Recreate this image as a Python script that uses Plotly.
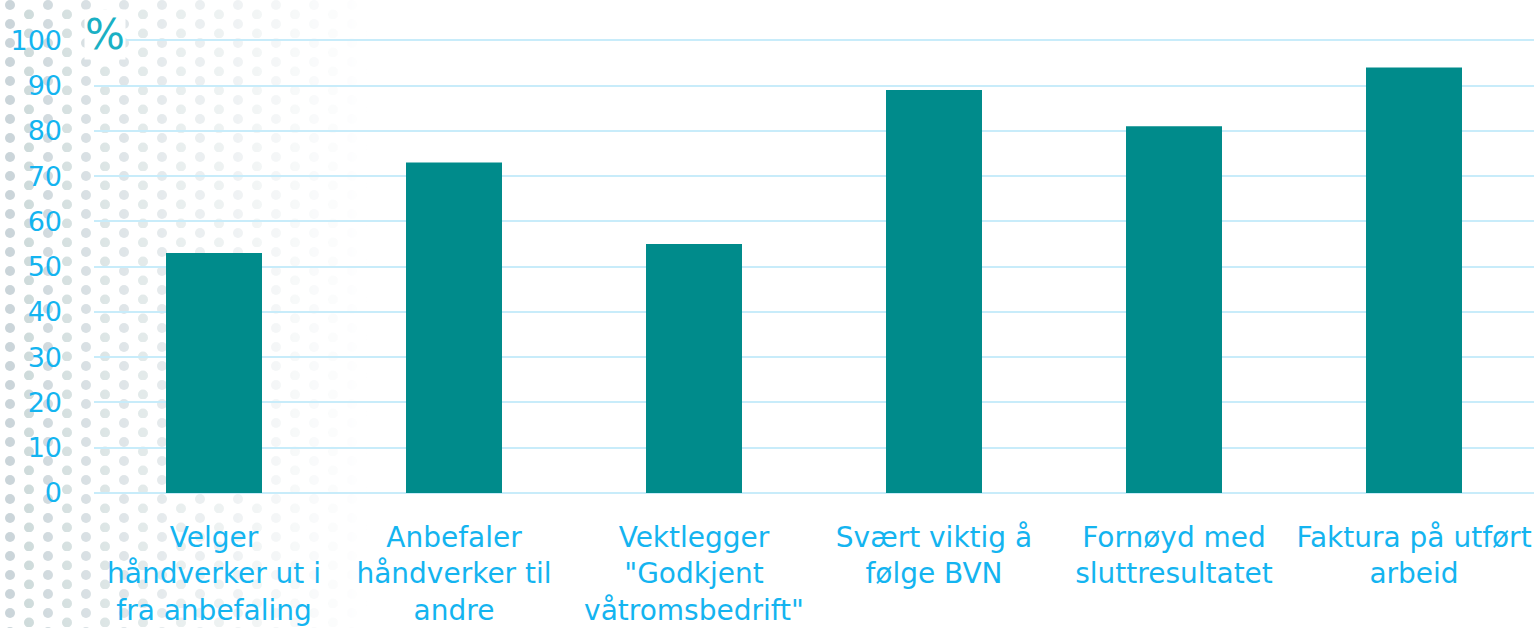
import base64
import plotly.graph_objects as go

categories = [
    "Velger<br>håndverker ut i<br>fra anbefaling",
    "Anbefaler<br>håndverker til<br>andre",
    "Vektlegger<br>\"Godkjent<br>våtromsbedrift\"",
    "Svært viktig å<br>følge BVN",
    "Fornøyd med<br>sluttresultatet",
    "Faktura på utført<br>arbeid",
]
values = [53, 73, 55, 89, 81, 94]
y_ticks = list(range(0, 101, 10))

BAR = "#008b8b"
TXT = "#14b4f0"
GRID = "#c8ecfa"

# decorative dotted background (left side fade)
svg = """<svg xmlns='http://www.w3.org/2000/svg' width='1537' height='628'>
<defs>
<pattern id='p' width='38' height='19' patternUnits='userSpaceOnUse'>
<circle cx='10' cy='5' r='5' fill='#a7b8c0'/>
<circle cx='29' cy='14.5' r='5' fill='#a9bfbf'/>
</pattern>
<linearGradient id='g' x1='0' x2='1' y1='0' y2='0'>
<stop offset='0' stop-color='white' stop-opacity='0.62'/>
<stop offset='0.05' stop-color='white' stop-opacity='0.45'/>
<stop offset='0.12' stop-color='white' stop-opacity='0.25'/>
<stop offset='0.2' stop-color='white' stop-opacity='0.08'/>
<stop offset='0.24' stop-color='white' stop-opacity='0'/>
</linearGradient>
<mask id='m'><rect width='1537' height='628' fill='url(#g)'/></mask>
</defs>
<rect width='1537' height='628' fill='url(#p)' mask='url(#m)'/>
</svg>"""
uri = "data:image/svg+xml;base64," + base64.b64encode(svg.encode()).decode()

fig = go.Figure(go.Bar(
    x=categories, y=values, marker_color=BAR, marker_line_width=0, width=0.4,
))

T, B = 38, 135
PH = 628 - T - B
fig.update_layout(
    width=1537, height=628,
    margin=dict(l=94, r=3, t=T, b=B, autoexpand=False),
    paper_bgcolor="white", plot_bgcolor="rgba(0,0,0,0)",
    font=dict(family="DejaVu Sans", color=TXT),
    showlegend=False,
    images=[dict(source=uri, xref="paper", yref="paper", x=-94/1440, y=1+T/PH,
                 sizex=1537/1440, sizey=628/PH, xanchor="left", yanchor="top",
                 layer="below", sizing="stretch")],
    annotations=[dict(text="%", xref="paper", yref="paper", x=-10/1440, y=1+4/PH,
                      xanchor="left", yanchor="middle", showarrow=False,
                      bgcolor="white", borderpad=0,
                      font=dict(size=42, color="#1ab0c4", family="DejaVu Sans"))],
)
fig.update_xaxes(
    tickfont=dict(size=28, color=TXT), showgrid=False, showline=False,
    ticks="", ticklabelstandoff=25, automargin=False,
)
fig.update_yaxes(
    range=[0, 100.5], tickvals=y_ticks, tickfont=dict(size=27, color=TXT),
    showgrid=True, gridcolor=GRID, gridwidth=2, zeroline=True, zerolinecolor=GRID,
    zerolinewidth=2, showline=False, ticks="", ticklabelstandoff=31, automargin=False,
)

fig.write_html("out.html", config={"displayModeBar": False},
               post_script="document.body.style.margin='0';")
